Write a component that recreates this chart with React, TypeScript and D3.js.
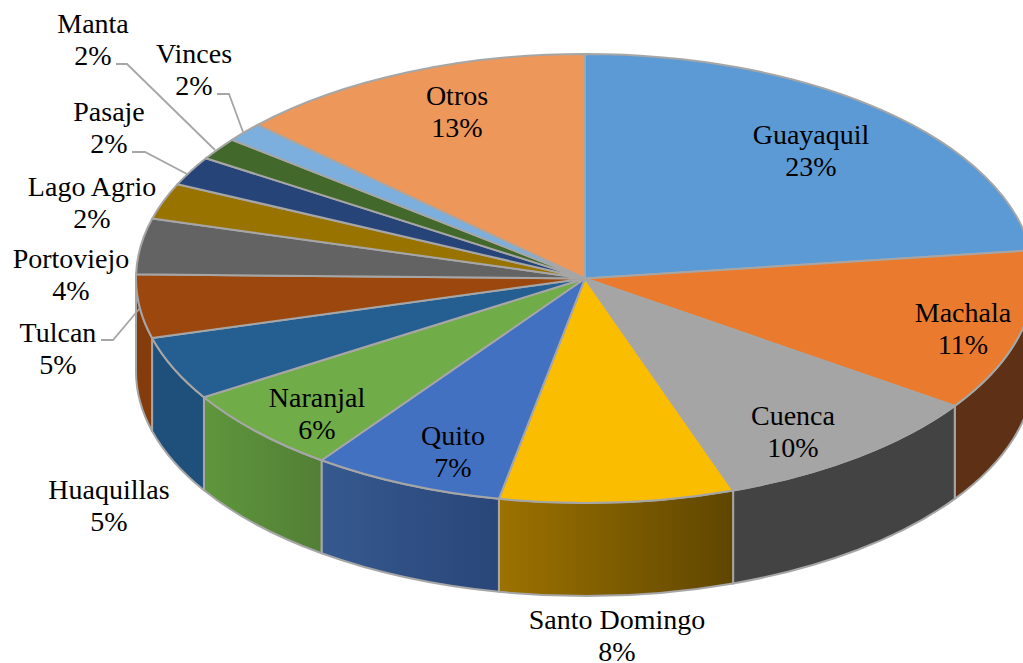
import React from "react";
import * as d3 from "d3";

const categories = ["Guayaquil","Machala","Cuenca","Santo Domingo","Quito","Naranjal","Huaquillas","Tulcan","Portoviejo","Lago Agrio","Pasaje","Manta","Vinces","Otros"];
const shareValues = [23, 11.6, 10.05, 8.42, 6.91, 6.15, 4.6, 4.57, 4.0, 2.6, 2.1, 1.6, 1.4, 13];
const percentLabels = ["23%","11%","10%","8%","7%","6%","5%","5%","4%","2%","2%","2%","2%","13%"];
const topColors = ["#5B9AD5","#EA7B2E","#A5A5A5","#FBBD00","#4371C2","#70AC47","#255E91","#9C470D","#636363","#997300","#264478","#43682B","#7CAFDD","#EE975A"];
const wallLeft = ["#5B9BD5","#5E3116","#434343","#9C7200","#35598F","#5F963C","#1F4F7B","#843C0C","#636363","#997300","#264478","#43682B","#7CAFDD","#F1975A"];
const wallRight = ["#5B9BD5","#5E3116","#434343","#5F4600","#2A4679","#527F36","#1F4F7B","#843C0C","#636363","#997300","#264478","#43682B","#7CAFDD","#F1975A"];
const labelAnchors: [number, number][] = [[811,144],[963,322],[793,425],[617,629],[453,445],[317,407],[109,499],[58,342],[71,268],[92,196],[109,121],[93,33],[194,63],[457,105]];
const leaderLines: [number, number][][] = [
  [[116,64],[127,64],[215,150]],
  [[217,94],[229,94],[243,132]],
  [[132,152],[145,152],[187,174]],
  [[101,340],[113,340],[140,308]],
];

const cx = 585, cy = 278.5, rx = 449, ry = 224.5, depth = 93;
const rimStroke = "#A6A6A6";

const px = (a: number) => cx + rx * Math.sin(a);
const py = (a: number) => cy - ry * Math.cos(a);

export default function App() {
  const arcs = d3.pie<number>().sort(null).value(d => d)(shareValues);
  const sector = d3.arc<d3.PieArcDatum<number>>().innerRadius(0).outerRadius(rx);
  const line = d3.line();
  const lo = Math.PI / 2, hi = (3 * Math.PI) / 2;

  const walls = arcs.map((a, i) => {
    const s = Math.max(a.startAngle, lo), e = Math.min(a.endAngle, hi);
    if (e <= s) return null;
    const d = `M${px(s)},${py(s)}A${rx},${ry} 0 0 1 ${px(e)},${py(e)}L${px(e)},${py(e) + depth}A${rx},${ry} 0 0 0 ${px(s)},${py(s) + depth}Z`;
    return <path key={i} d={d} fill={`url(#wall${i})`} stroke={rimStroke} strokeWidth={2} strokeLinejoin="round" />;
  });

  return (
    <svg width={1023} height={663} viewBox="0 0 1023 663" style={{ position: "absolute", left: 0, top: 0, background: "#fff" }}>
      <defs>
        {categories.map((_, i) => (
          <linearGradient key={i} id={`wall${i}`} x1="0" x2="1" y1="0" y2="0">
            <stop offset="0" stopColor={wallLeft[i]} />
            <stop offset="1" stopColor={wallRight[i]} />
          </linearGradient>
        ))}
      </defs>
      {walls}
      <g transform={`translate(${cx},${cy}) scale(1,${ry / rx})`}>
        {arcs.map((a, i) => (
          <path key={i} d={sector(a) as string} fill={topColors[i]} stroke={rimStroke} strokeWidth={2} strokeLinejoin="round" vectorEffect="non-scaling-stroke" />
        ))}
      </g>
      {leaderLines.map((l, i) => (
        <path key={i} d={line(l) as string} fill="none" stroke={rimStroke} strokeWidth={1.8} />
      ))}
      <g fontFamily="'Liberation Serif', serif" fontSize={28} fill="#000" textAnchor="middle">
        {categories.map((c, i) => (
          <text key={i} x={labelAnchors[i][0]} y={labelAnchors[i][1]}>
            <tspan x={labelAnchors[i][0]}>{c}</tspan>
            <tspan x={labelAnchors[i][0]} dy={32}>{percentLabels[i]}</tspan>
          </text>
        ))}
      </g>
    </svg>
  );
}
